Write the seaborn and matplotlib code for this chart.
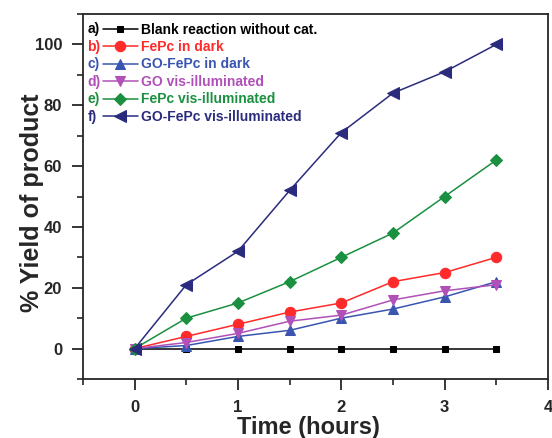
import matplotlib
matplotlib.use("Agg")
import matplotlib.pyplot as plt
import seaborn as sns
import pandas as pd

time_h = [0, 0.5, 1, 1.5, 2, 2.5, 3, 3.5]
blank = [0, 0, 0, 0, 0, 0, 0, 0]
fepc_dark = [0, 4, 8, 12, 15, 22, 25, 30]
gofepc_dark = [0, 1, 4, 6, 10, 13, 17, 22]
go_vis = [0, 2, 5, 9, 11, 16, 19, 21]
fepc_vis = [0, 10, 15, 22, 30, 38, 50, 62]
gofepc_vis = [0, 21, 32, 52, 71, 84, 91, 100]

prefixes = ["a)", "b)", "c)", "d)", "e)", "f)"]
labels = ["Blank reaction without cat.", "FePc in dark", "GO-FePc in dark",
          "GO vis-illuminated", "FePc vis-illuminated", "GO-FePc vis-illuminated"]
series = [blank, fepc_dark, gofepc_dark, go_vis, fepc_vis, gofepc_vis]
colors = ["#000000", "#ff2a2a", "#3a55b0", "#b050b8", "#1a9040", "#2b2b7e"]
markers = ["s", "o", "^", "v", "D", "<"]
msizes = [5, 7.5, 7.5, 7.5, 6, 8]

sns.set_style("ticks")
plt.rcParams['font.family'] = ['Liberation Sans', 'DejaVu Sans']
plt.rcParams['font.weight'] = 'bold'

fig = plt.figure(figsize=(5.52, 4.38), dpi=100)
ax = fig.add_axes([83/552, 1-379/438, (548-83)/552, (379-14)/438])

for lab, vals, c, m, ms in zip(labels, series, colors, markers, msizes):
    df = pd.DataFrame({"t": time_h, "y": vals})
    sns.lineplot(data=df, x="t", y="y", ax=ax, color=c, marker=m, markersize=ms,
                 markeredgecolor=c, linewidth=1.1, label=lab)

ax.set_xlim(-0.5, 4)
ax.set_ylim(-10, 110)
ax.set_xticks([0, 1, 2, 3, 4])
ax.set_xticks([-0.5, 0.5, 1.5, 2.5, 3.5], minor=True)
ax.set_yticks([0, 20, 40, 60, 80, 100])
ax.set_yticks([-10, 10, 30, 50, 70, 90, 110], minor=True)
ax.tick_params(axis='both', which='major', direction='out', length=8, width=1.3,
               labelsize=12, pad=7)
ax.tick_params(axis='both', which='minor', direction='out', length=4, width=1.2)
for lbl in ax.get_xticklabels() + ax.get_yticklabels():
    lbl.set_fontweight('bold')
for s in ax.spines.values():
    s.set_linewidth(1.3)
    s.set_visible(True)

ax.set_xlabel("Time (hours)", fontsize=17, fontweight='bold')
ax.set_ylabel("% Yield of product", fontsize=18, fontweight='bold')
ax.xaxis.set_label_coords((308.5 - 83) / 465, (379 - 416) / 365)
ax.yaxis.set_label_coords((44 - 83) / 465, (379 - 203) / 365)

leg = ax.legend(loc='upper left', bbox_to_anchor=(102.5/552, 1-22.5/438),
                bbox_transform=fig.transFigure, frameon=False, fontsize=10,
                handlelength=2.55, handletextpad=0.2, labelspacing=0.25,
                borderpad=0, borderaxespad=0)
for t, c in zip(leg.get_texts(), colors):
    t.set_color(c)
    t.set_fontweight('bold')

fig.canvas.draw()
inv = fig.transFigure.inverted()
for t, p, c in zip(leg.get_texts(), prefixes, colors):
    bb = t.get_window_extent()
    _, yc = inv.transform((0, (bb.y0 + bb.y1) / 2))
    fig.text(87.5/552, yc, p, color=c, fontsize=10, fontweight='bold',
             ha='left', va='center')

fig.savefig("out.png", dpi=100)
